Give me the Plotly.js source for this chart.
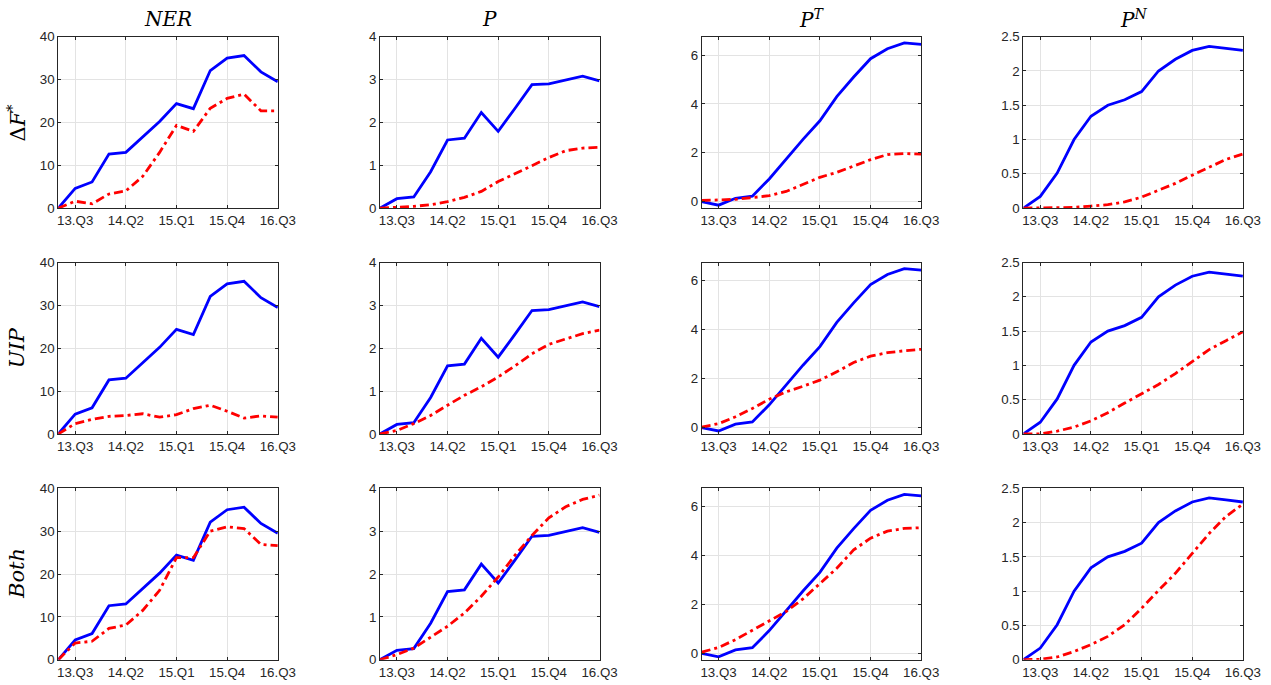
<!DOCTYPE html>
<html>
<head>
<meta charset="utf-8">
<script src="https://cdn.plot.ly/plotly-3.0.1.min.js"></script>
<style>html,body{margin:0;padding:0;background:#fff;}#chart{width:1271px;height:685px;}</style>
</head>
<body>
<div id="chart"></div>
<script>
// ---------- data ----------
var quarters = ['13.Q2','13.Q3','13.Q4','14.Q1','14.Q2','14.Q3','14.Q4','15.Q1','15.Q2','15.Q3','15.Q4','16.Q1','16.Q2','16.Q3'];
var tickQuarters = ['13.Q3','14.Q2','15.Q1','15.Q4','16.Q3'];

var colTitles = ['<i>NER</i>', '<i>P</i>', '<i>P</i><sup><i>T</i></sup>', '<i>P</i><sup><i>N</i></sup>'];
var rowTitles = ['Δ<i>F</i><sup>*</sup>', '<i>UIP</i>', '<i>Both</i>'];

// observed (blue, solid)
var obsNER = [0, 4.6, 6.1, 12.6, 13.0, 16.7, 20.2, 24.4, 23.2, 32.1, 35.0, 35.6, 31.8, 29.5];
var obsP   = [0, 0.22, 0.26, 0.85, 1.59, 1.63, 2.23, 1.79, 2.33, 2.88, 2.90, 2.99, 3.08, 2.97];
var obsPT  = [0, -0.14, 0.14, 0.23, 0.93, 1.75, 2.55, 3.31, 4.30, 5.10, 5.85, 6.26, 6.50, 6.44];
var obsPN  = [0, 0.17, 0.51, 1.00, 1.34, 1.50, 1.58, 1.70, 2.00, 2.17, 2.30, 2.36, 2.33, 2.30];

// counterfactual (red, dash-dot) : row 1 = ΔF*
var dfNER = [0, 1.6, 1.0, 3.3, 4.0, 7.4, 13.0, 19.3, 17.9, 23.3, 25.6, 26.6, 22.7, 22.7];
var dfP   = [0, 0.02, 0.04, 0.08, 0.15, 0.25, 0.39, 0.62, 0.80, 0.99, 1.18, 1.34, 1.40, 1.42];
var dfPT  = [0.05, 0.07, 0.10, 0.17, 0.25, 0.42, 0.70, 1.00, 1.20, 1.45, 1.72, 1.93, 1.97, 1.95];
var dfPN  = [0, 0.0, 0.005, 0.01, 0.03, 0.05, 0.09, 0.16, 0.26, 0.36, 0.48, 0.60, 0.71, 0.79];
// row 2 = UIP
var uipNER = [0, 2.4, 3.4, 4.1, 4.3, 4.7, 3.9, 4.5, 5.9, 6.7, 5.3, 3.7, 4.2, 3.9];
var uipP   = [0, 0.08, 0.24, 0.43, 0.67, 0.90, 1.10, 1.33, 1.59, 1.87, 2.09, 2.22, 2.34, 2.42];
var uipPT  = [0.02, 0.16, 0.44, 0.78, 1.16, 1.46, 1.69, 1.94, 2.28, 2.66, 2.92, 3.06, 3.14, 3.20];
var uipPN  = [0, 0.0, 0.04, 0.10, 0.19, 0.31, 0.45, 0.59, 0.72, 0.88, 1.06, 1.23, 1.36, 1.49];
// row 3 = Both
var bothNER = [0, 3.9, 4.3, 7.3, 8.1, 11.5, 16.2, 23.8, 23.8, 30.0, 31.0, 30.6, 26.9, 26.6];
var bothP   = [0, 0.12, 0.27, 0.52, 0.78, 1.09, 1.48, 1.93, 2.44, 2.90, 3.31, 3.57, 3.74, 3.84];
var bothPT  = [0.05, 0.24, 0.56, 0.94, 1.31, 1.71, 2.23, 2.87, 3.48, 4.23, 4.71, 5.00, 5.11, 5.14];
var bothPN  = [0, 0.005, 0.04, 0.12, 0.22, 0.34, 0.51, 0.75, 1.01, 1.26, 1.55, 1.84, 2.09, 2.27];

var yRanges = [[0, 40], [0, 4], [-0.26, 6.75], [0, 2.5]];
var yTicks  = [[0, 10, 20, 30, 40], [0, 1, 2, 3, 4], [0, 2, 4, 6], [0, 0.5, 1, 1.5, 2, 2.5]];

var observed = [obsNER, obsP, obsPT, obsPN];
var counterfactual = [
  [dfNER, dfP, dfPT, dfPN],
  [uipNER, uipP, uipPT, uipPN],
  [bothNER, bothP, bothPT, bothPN]
];

// ---------- layout ----------
var W = 1271, H = 685;
var colX0 = 58.3, colStep = 321.7, colW = 219.5;
var rowY0 = 36.7, rowStep = 225.8, rowH = 171.4;
var axisColor = '#262626';
var gridColor = '#e3e3e3';
var tickFont = {family: 'Liberation Sans, Arial, sans-serif', size: 13.3, color: axisColor};
var serif = 'DejaVu Serif, Liberation Serif, serif';

var traces = [];
var layout = {
  width: W, height: H,
  margin: {l: 0, r: 0, t: 0, b: 0},
  paper_bgcolor: '#ffffff', plot_bgcolor: '#ffffff',
  showlegend: false,
  annotations: []
};

for (var r = 0; r < 3; r++) {
  for (var c = 0; c < 4; c++) {
    var k = r * 4 + c + 1;
    var xa = 'xaxis' + (k === 1 ? '' : k), ya = 'yaxis' + (k === 1 ? '' : k);
    var xr = 'x' + (k === 1 ? '' : k), yr = 'y' + (k === 1 ? '' : k);
    var pxLeft = colX0 + c * colStep, pxTop = rowY0 + r * rowStep;
    layout[xa] = {
      domain: [pxLeft / W, (pxLeft + colW) / W],
      anchor: yr,
      type: 'category',
      range: [0, quarters.length - 1],
      tickmode: 'array', tickvals: tickQuarters, ticktext: tickQuarters,
      ticks: 'inside', ticklen: 3, tickcolor: axisColor, tickwidth: 1,
      showline: true, linecolor: axisColor, linewidth: 1, mirror: 'ticks',
      showgrid: true, gridcolor: gridColor, gridwidth: 1,
      zeroline: false, tickfont: tickFont, fixedrange: true
    };
    layout[ya] = {
      domain: [1 - (pxTop + rowH) / H, 1 - pxTop / H],
      anchor: xr,
      range: yRanges[c],
      tickmode: 'array', tickvals: yTicks[c],
      ticks: 'inside', ticklen: 3, tickcolor: axisColor, tickwidth: 1,
      showline: true, linecolor: axisColor, linewidth: 1, mirror: 'ticks',
      showgrid: true, gridcolor: gridColor, gridwidth: 1,
      zeroline: false, tickfont: tickFont, fixedrange: true
    };
    traces.push({
      type: 'scatter', mode: 'lines', x: quarters, y: observed[c],
      xaxis: xr, yaxis: yr, line: {color: '#0000ff', width: 2.8}, hoverinfo: 'skip'
    });
    traces.push({
      type: 'scatter', mode: 'lines', x: quarters, y: counterfactual[r][c],
      xaxis: xr, yaxis: yr, line: {color: '#ff0000', width: 2.8, dash: '9px,4px,3px,4px'}, hoverinfo: 'skip'
    });
    if (r === 0) {
      layout.annotations.push({
        xref: 'paper', yref: 'paper', x: (pxLeft + colW / 2) / W, y: 1 - 19 / H,
        xanchor: 'center', yanchor: 'middle', showarrow: false,
        text: colTitles[c], font: {family: serif, size: 20, color: '#000'}
      });
    }
    if (c === 0) {
      layout.annotations.push({
        xref: 'paper', yref: 'paper', x: 17 / W, y: 1 - (pxTop + rowH / 2) / H,
        xanchor: 'center', yanchor: 'middle', showarrow: false, textangle: -90,
        text: rowTitles[r], font: {family: serif, size: 21, color: '#000'}
      });
    }
  }
}

Plotly.newPlot('chart', traces, layout, {staticPlot: true, displayModeBar: false});
</script>
</body>
</html>
